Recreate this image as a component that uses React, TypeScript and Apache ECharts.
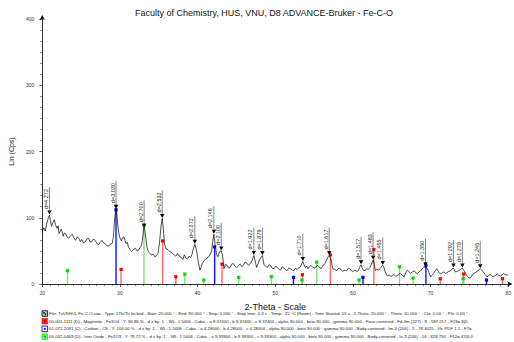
import React, { useEffect, useRef } from 'react';
import * as echarts from 'echarts';

const FONT = '"Liberation Sans", Arial, Helvetica, sans-serif';

// Measured XRD scan (2-Theta in degrees, intensity in Cps)
const twoTheta = [
  20.0, 20.2, 20.4, 20.6, 20.8, 20.93, 21.05, 21.2, 21.35, 21.55, 21.7, 21.9, 22.05, 22.15, 22.3, 22.45, 22.7, 22.85, 23.0, 23.2,
  23.4, 23.6, 23.85, 24.05, 24.3, 24.5, 24.7, 24.9, 25.1, 25.3, 25.55, 25.75, 25.95, 26.2, 26.4, 26.6, 26.8, 27.0, 27.25, 27.45,
  27.7, 27.9, 28.1, 28.3, 28.55, 28.75, 29.0, 29.15, 29.3, 29.45, 29.55, 29.7, 29.85, 30.0, 30.2, 30.35, 30.5, 30.65, 30.8, 30.95,
  31.1, 31.3, 31.5, 31.75, 32.0, 32.2, 32.4, 32.6, 32.8, 32.95, 33.1, 33.2, 33.35, 33.5, 33.65, 33.85, 34.05, 34.3, 34.5, 34.7,
  34.9, 35.1, 35.3, 35.45, 35.6, 35.75, 35.95, 36.2, 36.4, 36.6, 36.8, 37.0, 37.2, 37.4, 37.65, 37.9, 38.1, 38.3, 38.5, 38.7,
  38.9, 39.1, 39.3, 39.45, 39.65, 39.8, 39.95, 40.1, 40.3, 40.45, 40.6, 40.9, 41.2, 41.5, 41.8, 41.95, 42.1, 42.25, 42.45, 42.6,
  42.85, 43.05, 43.2, 43.4, 43.6, 43.8, 44.0, 44.2, 44.4, 44.6, 44.8, 45.0, 45.25, 45.5, 45.7, 45.9, 46.1, 46.3, 46.55, 46.8,
  47.0, 47.25, 47.45, 47.6, 47.8, 47.95, 48.15, 48.35, 48.55, 48.75, 49.0, 49.2, 49.4, 49.6, 49.85, 50.05, 50.3, 50.5, 50.7, 50.9,
  51.1, 51.3, 51.5, 51.75, 52.0, 52.2, 52.4, 52.6, 52.8, 53.0, 53.2, 53.4, 53.55, 53.75, 53.9, 54.05, 54.2, 54.4, 54.6, 54.85,
  55.1, 55.3, 55.5, 55.7, 55.9, 56.1, 56.4, 56.6, 56.8, 56.95, 57.1, 57.25, 57.4, 57.65, 57.9, 58.1, 58.3, 58.5, 58.7, 58.95,
  59.2, 59.4, 59.6, 59.8, 60.0, 60.25, 60.5, 60.7, 60.9, 61.05, 61.2, 61.4, 61.6, 61.8, 62.0, 62.2, 62.4, 62.6, 62.75, 62.9,
  63.1, 63.3, 63.55, 63.8, 63.95, 64.1, 64.3, 64.45, 64.7, 64.9, 65.1, 65.3, 65.5, 65.7, 65.9, 66.1, 66.35, 66.6, 66.8, 67.0,
  67.2, 67.4, 67.65, 67.9, 68.1, 68.3, 68.5, 68.7, 68.9, 69.1, 69.35, 69.55, 69.75, 70.0, 70.2, 70.4, 70.6, 70.8, 71.05, 71.3,
  71.5, 71.7, 71.9, 72.1, 72.35, 72.6, 72.9, 73.05, 73.2, 73.4, 73.6, 73.85, 74.1, 74.25, 74.4, 74.6, 74.8, 75.0, 75.2, 75.4,
  75.6, 75.85, 76.1, 76.4, 76.6, 76.8, 77.05, 77.3, 77.5, 77.7, 77.9, 78.1, 78.35, 78.6, 78.8, 79.0, 79.2, 79.4, 79.6, 79.8,
  80.0,
];
const counts = [
  78, 85, 80, 92, 101, 104, 95, 87, 92, 97, 90, 84, 88, 76, 79, 83, 72, 77, 76, 71,
  69, 72, 75, 70, 66, 71, 69, 64, 67, 62, 64, 68, 69, 63, 64, 68, 66, 62, 59, 63,
  66, 62, 61, 58, 57, 60, 61, 70, 95, 112, 114, 92, 77, 70, 65, 70, 71, 66, 61, 63,
  56, 52, 49, 52, 54, 50, 51, 55, 59, 72, 86, 82, 68, 55, 49, 46, 44, 45, 41, 43,
  46, 62, 88, 99, 82, 60, 53, 52, 49, 48, 46, 44, 42, 46, 42, 40, 37, 44, 39, 38,
  42, 40, 45, 53, 60, 54, 45, 33, 21, 25, 31, 36, 39, 42, 49, 64, 75, 60, 45, 41,
  49, 50, 45, 23, 30, 28, 24, 25, 30, 31, 27, 25, 28, 30, 26, 28, 33, 32, 28, 31,
  35, 43, 33, 25, 31, 36, 40, 43, 29, 27, 25, 29, 28, 24, 23, 27, 25, 22, 21, 26,
  24, 22, 20, 24, 23, 21, 20, 24, 22, 24, 25, 30, 34, 28, 25, 27, 23, 26, 28, 25,
  24, 27, 28, 25, 23, 27, 31, 36, 41, 43, 40, 33, 23, 22, 20, 23, 24, 21, 19, 21,
  20, 24, 23, 20, 19, 21, 19, 20, 26, 29, 24, 20, 21, 23, 22, 25, 30, 36, 30, 20,
  22, 21, 24, 28, 27, 20, 15, 12, 14, 11, 13, 14, 12, 12, 15, 16, 13, 11, 17, 21,
  19, 16, 18, 20, 17, 16, 18, 20, 22, 25, 26, 24, 19, 11, 13, 16, 20, 23, 18, 15,
  17, 18, 16, 17, 19, 20, 24, 22, 18, 19, 20, 22, 24, 21, 18, 14, 11, 9, 10, 14,
  16, 18, 20, 23, 21, 18, 14, 11, 13, 14, 12, 11, 13, 15, 13, 12, 14, 16, 14, 14,
  13,
];

// Peak search results (d-spacing labels)
const peakTheta = [20.93, 29.5, 33.12, 35.45, 39.65, 42.1, 43.05, 47.25, 48.35, 53.55, 56.95, 61.05, 62.6, 63.85, 69.35, 72.95, 74.1, 76.4];
const peakCounts = [104, 113, 84, 99, 60, 75, 50, 43, 43, 34, 43, 29, 36, 28, 26, 24, 24, 23];
const peakLabels = [
  'd=4.272', 'd=3.030', 'd=2.700', 'd=2.532', 'd=2.272', 'd=2.146', 'd=2.100', 'd=1.922', 'd=1.879',
  'd=1.710', 'd=1.617', 'd=1.517', 'd=1.483', 'd=1.455', 'd=1.350', 'd=1.292', 'd=1.278', 'd=1.245',
];

// Reference patterns (stick positions and heights)
const magnetiteTheta = [30.15, 35.5, 37.2, 43.15, 53.5, 57.1, 62.7, 71.25, 74.25, 79.25];
const magnetiteCounts = [22, 65, 11, 30, 14, 44, 52, 8, 15, 8];
const carbonTheta = [29.5, 42.2, 52.35, 61.3, 69.4, 77.2];
const carbonCounts = [112, 56, 10, 10, 28, 6];
const ironOxideTheta = [23.25, 33.1, 38.35, 40.8, 45.3, 49.5, 53.45, 55.35, 60.8, 66.0, 67.75, 74.2];
const ironOxideCounts = [20, 89, 15, 6, 10, 11, 6, 33, 6, 26, 9, 8];

const xMin = 20;
const xMax = 80;
const xStep = 10;
const yMin = 0;
const yMax = 400;
const yStep = 100;

const titleText = 'Faculty of Chemistry, HUS, VNU, D8 ADVANCE-Bruker - Fe-C-O';
const xName = '2-Theta - Scale';
const yName = 'Lin (Cps)';

const legendLines = [
  'File: TuVKHVL Fe-C-O.raw - Type: 2Th/Th locked - Start: 20.000 \u00b0 - End: 80.000 \u00b0 - Step: 0.030 \u00b0 - Step time: 0.3 s - Temp.: 25 \u00b0C (Room) - Time Started: 13 s - 2-Theta: 20.000 \u00b0 - Theta: 10.000 \u00b0 - Chi: 0.00 \u00b0 - Phi: 0.00 \u00b0 -',
  '00-001-1111 (D) - Magnetite - Fe3O4 - Y: 96.86 % - d x by: 1. - WL: 1.5406 - Cubic - a 8.37400 - b 8.37400 - c 8.37400 - alpha 90.000 - beta 90.000 - gamma 90.000 - Face-centered - Fd-3m (227) - 8 - 587.217 - F19= 8(0.',
  '01-072-2091 (C) - Carbon - C8 - Y: 100.00 % - d x by: 1. - WL: 1.5406 - Cubic - a 4.28000 - b 4.28000 - c 4.28000 - alpha 90.000 - beta 90.000 - gamma 90.000 - Body-centered - Im-3 (204) - 2 - 78.4025 - I/Ic PDF 1.1 - F7=',
  '00-032-0469 (D) - Iron Oxide - Fe2O3 - Y: 76.72 % - d x by: 1. - WL: 1.5406 - Cubic - a 9.39300 - b 9.39300 - c 9.39300 - alpha 90.000 - beta 90.000 - gamma 90.000 - Body-centered - Ia-3 (206) - 16 - 828.730 - F12= 47(0.0',
];

function stickSeries(name: string, th: number[], ct: number[], lineColor: string, markColor: string) {
  return {
    type: 'custom',
    name,
    data: th.map((t, i) => [t, ct[i]]),
    encode: { x: 0, y: 1 },
    clip: false,
    z: 3,
    silent: true,
    renderItem: (_params: any, api: any) => {
      const top = api.coord([api.value(0), api.value(1)]);
      const base = api.coord([api.value(0), 0]);
      return {
        type: 'group',
        children: [
          {
            type: 'line',
            shape: { x1: top[0], y1: top[1], x2: base[0], y2: base[1] },
            style: { stroke: lineColor, lineWidth: 1.4 },
          },
          {
            type: 'rect',
            shape: { x: top[0] - 1.6, y: top[1] - 1.6, width: 3.2, height: 3.2 },
            style: { fill: markColor },
          },
        ],
      };
    },
  };
}

export default function App() {
  const ref = useRef<HTMLDivElement>(null);

  useEffect(() => {
    if (!ref.current) return;
    const chart = echarts.init(ref.current, null, { renderer: 'svg' });
    const scan = twoTheta.map((t, i) => [t, counts[i]]);
    const peaks = peakTheta.map((t, i) => [t, peakCounts[i]]);

    const rowY = [313.5, 321.2, 328.9, 336.6];
    const legendGraphics: any[] = [];
    // icons
    legendGraphics.push(
      { type: 'rect', shape: { x: 42, y: rowY[0] - 2.8, width: 5.6, height: 5.6 }, style: { fill: '#bbb', stroke: '#000', lineWidth: 0.8 } },
      { type: 'rect', shape: { x: 43.4, y: rowY[0] - 1.4, width: 1.4, height: 1.4 }, style: { fill: '#000' } },
      { type: 'rect', shape: { x: 44.8, y: rowY[0], width: 1.4, height: 1.4 }, style: { fill: '#000' } },
      { type: 'rect', shape: { x: 42, y: rowY[1] - 2.8, width: 5.6, height: 5.6 }, style: { fill: '#ff2020', stroke: '#ff0000', lineWidth: 0.6 } },
      { type: 'rect', shape: { x: 43.9, y: rowY[1] - 0.9, width: 1.8, height: 1.8 }, style: { fill: '#900' } },
      { type: 'rect', shape: { x: 42, y: rowY[2] - 2.8, width: 5.6, height: 5.6 }, style: { fill: '#fff', stroke: '#0000ff', lineWidth: 0.9 } },
      { type: 'rect', shape: { x: 43.9, y: rowY[2] - 0.9, width: 1.8, height: 1.8 }, style: { fill: '#0000ff' } },
      { type: 'rect', shape: { x: 42, y: rowY[3] - 2.8, width: 5.6, height: 5.6 }, style: { fill: '#66ee66', stroke: '#00cc00', lineWidth: 0.6 } },
      { type: 'rect', shape: { x: 43.9, y: rowY[3] - 0.9, width: 1.8, height: 1.8 }, style: { fill: '#00aa00' } },
    );
    legendLines.forEach((line, i) => {
      legendGraphics.push({
        type: 'text',
        x: 49,
        y: rowY[i],
        style: { text: line, fill: '#222', font: `4.3px ${FONT}`, align: 'left', verticalAlign: 'middle' },
      });
    });

    const option: any = {
      animation: false,
      backgroundColor: '#ffffff',
      grid: { left: 41, right: 4, top: 19, bottom: 58, containLabel: false },
      graphic: [
        {
          type: 'text',
          x: 264,
          y: 13,
          style: { text: titleText, fill: '#111', font: `9px ${FONT}`, align: 'center', verticalAlign: 'middle' },
        },
        ...legendGraphics,
      ],
      xAxis: {
        type: 'value',
        min: xMin,
        max: xMax,
        interval: xStep,
        name: xName,
        nameLocation: 'middle',
        nameGap: 18,
        nameTextStyle: { fontFamily: FONT, fontSize: 9, color: '#111' },
        axisLine: { show: true, lineStyle: { color: '#000', width: 0.8 }, symbol: ['none', 'arrow'], symbolSize: [4, 5], symbolOffset: [0, 4] },
        axisTick: { show: true, length: 3, lineStyle: { color: '#000', width: 0.6 } },
        minorTick: { show: true, splitNumber: 10, length: 2, lineStyle: { color: '#000', width: 0.5 } },
        axisLabel: { fontFamily: FONT, fontSize: 5, color: '#333', margin: 6 },
        splitLine: { show: false },
      },
      yAxis: {
        type: 'value',
        min: yMin,
        max: yMax,
        interval: yStep,
        name: yName,
        nameLocation: 'middle',
        nameGap: 16,
        nameTextStyle: { fontFamily: FONT, fontSize: 7, color: '#111' },
        axisLine: { show: true, lineStyle: { color: '#000', width: 0.8 }, symbol: ['none', 'arrow'], symbolSize: [4, 5], symbolOffset: [0, 4] },
        axisTick: { show: true, length: 3, lineStyle: { color: '#000', width: 0.6 } },
        minorTick: { show: true, splitNumber: 6, length: 2, lineStyle: { color: '#000', width: 0.5 } },
        axisLabel: { fontFamily: FONT, fontSize: 5, color: '#333', margin: 8 },
        splitLine: { show: false },
      },
      series: [
        stickSeries('Carbon', carbonTheta, carbonCounts, '#1010ff', '#0000ff'),
        stickSeries('Magnetite', magnetiteTheta, magnetiteCounts, '#ff6a6a', '#ff0000'),
        stickSeries('Iron Oxide', ironOxideTheta, ironOxideCounts, '#80e080', '#00dd00'),
        {
          type: 'line',
          name: 'Fe-C-O',
          data: scan,
          showSymbol: false,
          symbol: 'none',
          lineStyle: { color: '#000', width: 0.7 },
          z: 4,
          silent: true,
        },
        {
          type: 'custom',
          name: 'peaks',
          data: peaks,
          encode: { x: 0, y: 1 },
          clip: false,
          z: 5,
          silent: true,
          renderItem: (params: any, api: any) => {
            const p = api.coord([api.value(0), api.value(1)]);
            const x = p[0];
            const y = p[1];
            return {
              type: 'group',
              children: [
                {
                  type: 'polygon',
                  shape: { points: [[x - 2.2, y - 4.5], [x + 2.2, y - 4.5], [x, y - 0.5]] },
                  style: { fill: '#000' },
                },
                {
                  type: 'line',
                  shape: { x1: x, y1: y - 4, x2: x, y2: y - 28 },
                  style: { stroke: '#333', lineWidth: 0.6 },
                },
                {
                  type: 'text',
                  x: x - 0.5,
                  y: y - 6,
                  rotation: Math.PI / 2,
                  style: {
                    text: peakLabels[params.dataIndex],
                    fill: '#222',
                    font: `5.5px ${FONT}`,
                    align: 'left',
                    verticalAlign: 'bottom',
                  },
                },
              ],
            };
          },
        },
      ],
    };
    chart.setOption(option);
    return () => chart.dispose();
  }, []);

  return (
    <div
      ref={ref}
      style={{ position: 'fixed', left: 0, top: 0, width: 514, height: 342, background: '#fff' }}
    />
  );
}
